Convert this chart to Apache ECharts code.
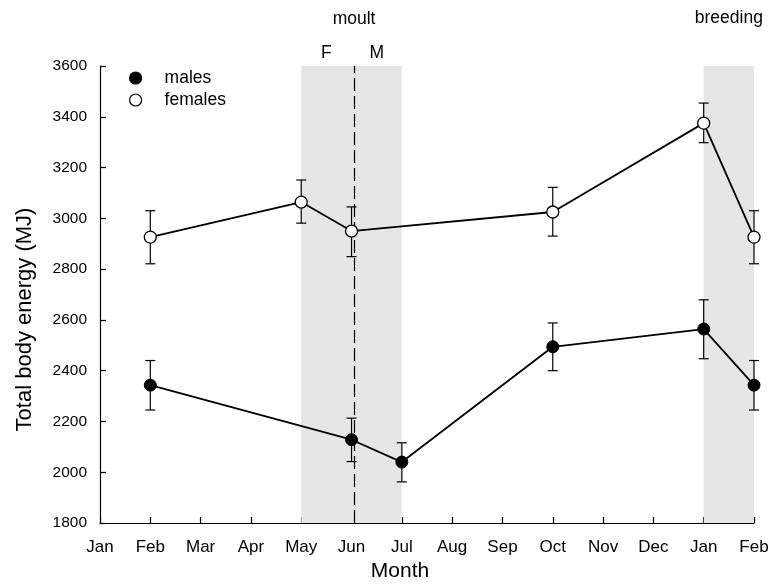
<!DOCTYPE html>
<html>
<head>
<meta charset="utf-8">
<script src="https://cdn.jsdelivr.net/npm/echarts@6/dist/echarts.min.js"></script>
<style>
  html, body { margin: 0; padding: 0; background: #fff; }
  #chart { width: 770px; height: 585px; }
</style>
</head>
<body>
<div id="chart"></div>
<script>
// tick labels: 14 months, Jan to the following Feb
const monthLabels = ['Jan', 'Feb', 'Mar', 'Apr', 'May', 'Jun', 'Jul', 'Aug', 'Sep', 'Oct', 'Nov', 'Dec', 'Jan', 'Feb'];

// males: month index, mean, error bar ends
const malesX = [1, 5, 6, 9, 12, 13];
const malesY = [2343, 2128, 2040, 2494, 2564, 2343];
const malesLow = [2245, 2042, 1962, 2400, 2447, 2245];
const malesHigh = [2440, 2213, 2116, 2588, 2679, 2440];

// females
const femalesX = [1, 4, 5, 9, 12, 13];
const femalesY = [2926, 3064, 2950, 3025, 3375, 2926];
const femalesLow = [2821, 2981, 2849, 2930, 3298, 2821];
const femalesHigh = [3030, 3151, 3045, 3122, 3454, 3030];

// shaded periods (month index)
const moultPeriod = [4, 6];
const breedingPeriod = [12, 13];
const moultSplit = 5.05;

const font = '"Liberation Sans", Arial, sans-serif';

function pairs(xs, ys) {
    return xs.map((x, i) => [x, ys[i]]);
}

/**
 * error bars: vertical line + caps
 */
function errorSeries(xs, lows, highs) {
    return {
        type: 'custom',
        silent: true,
        z: 3,
        data: xs.map((x, i) => [x, lows[i], highs[i]]),
        renderItem: function(params, api) {
            const lo = api.coord([api.value(0), api.value(1)]);
            const hi = api.coord([api.value(0), api.value(2)]);
            const w = 5;
            const style = { stroke: '#000', lineWidth: 1.2 };
            return {
                type: 'group',
                children: [
                    { type: 'line', shape: { x1: lo[0], y1: lo[1], x2: hi[0], y2: hi[1] }, style },
                    { type: 'line', shape: { x1: lo[0] - w, y1: lo[1], x2: lo[0] + w, y2: lo[1] }, style },
                    { type: 'line', shape: { x1: hi[0] - w, y1: hi[1], x2: hi[0] + w, y2: hi[1] }, style }
                ]
            };
        }
    };
}

const chart = echarts.init(document.getElementById('chart'));

chart.setOption({
    animation: false,
    grid: { left: 100, right: 16, top: 66, bottom: 62, outerBoundsMode: 'none' },
    xAxis: {
        type: 'value',
        min: 0,
        max: 13,
        interval: 1,
        name: 'Month',
        nameLocation: 'middle',
        nameGap: 38,
        nameTextStyle: { fontFamily: font, fontSize: 21, color: '#000', padding: [0, 54, 0, 0] },
        axisLine: { lineStyle: { color: '#000', width: 1.2 } },
        axisTick: { inside: true, length: 6, lineStyle: { color: '#000', width: 1.2 } },
        axisLabel: {
            fontFamily: font, fontSize: 17, color: '#000', margin: 16,
            formatter: v => monthLabels[v] || ''
        },
        splitLine: { show: false }
    },
    yAxis: {
        type: 'value',
        min: 1800,
        max: 3600,
        interval: 200,
        name: 'Total body energy (MJ)',
        nameLocation: 'middle',
        nameGap: 64,
        nameTextStyle: { fontFamily: font, fontSize: 22, color: '#000', padding: [0, 50, 0, 0] },
        axisLine: { show: true, lineStyle: { color: '#000', width: 1.2 } },
        axisTick: { show: true, inside: true, length: 6, lineStyle: { color: '#000', width: 1.2 } },
        axisLabel: { fontFamily: font, fontSize: 15.5, color: '#000', margin: 13, formatter: v => String(v) },
        splitLine: { show: false }
    },
    legend: {
        orient: 'vertical',
        left: 129,
        top: 69,
        padding: 0,
        itemWidth: 12,
        itemHeight: 12,
        itemGap: 4,
        textStyle: { fontFamily: font, fontSize: 17.5, color: '#000', padding: [0, 0, 0, 18] },
        data: [
            { name: 'males', icon: 'circle', itemStyle: { color: '#000', borderColor: '#000', borderWidth: 1.2 } },
            { name: 'females', icon: 'circle', itemStyle: { color: '#fff', borderColor: '#000', borderWidth: 1.2 } }
        ]
    },
    series: [
        {
            type: 'line',
            name: 'bg',
            data: [],
            silent: true,
            z: 1,
            markArea: {
                silent: true,
                itemStyle: { color: '#e6e6e6' },
                data: [
                    [{ xAxis: moultPeriod[0], yAxis: 1800 }, { xAxis: moultPeriod[1], yAxis: 3600 }],
                    [{ xAxis: breedingPeriod[0], yAxis: 1800 }, { xAxis: breedingPeriod[1], yAxis: 3600 }]
                ]
            },
            markLine: {
                silent: true,
                symbol: 'none',
                label: { show: false },
                lineStyle: { color: '#000', type: [13, 5], width: 1.2 },
                data: [[{ xAxis: moultSplit, yAxis: 1800 }, { xAxis: moultSplit, yAxis: 3600 }]]
            }
        },
        errorSeries(malesX, malesLow, malesHigh),
        errorSeries(femalesX, femalesLow, femalesHigh),
        {
            type: 'line',
            name: 'males',
            z: 5,
            data: pairs(malesX, malesY),
            symbol: 'circle',
            symbolSize: 12,
            lineStyle: { color: '#000', width: 1.8 },
            itemStyle: { color: '#000', borderColor: '#000', borderWidth: 1 }
        },
        {
            type: 'line',
            name: 'females',
            z: 5,
            data: pairs(femalesX, femalesY),
            symbol: 'circle',
            symbolSize: 12,
            lineStyle: { color: '#000', width: 1.8 },
            itemStyle: { color: '#fff', borderColor: '#000', borderWidth: 1.3 }
        }
    ]
});

// period labels above the plot, placed from the axis scale
const labelStyle = { font: '17.5px ' + font, fill: '#000', align: 'center', verticalAlign: 'middle' };
const px = v => chart.convertToPixel({ xAxisIndex: 0 }, v);
chart.setOption({
    graphic: [
        { type: 'text', x: px(moultSplit), y: 19, style: Object.assign({ text: 'moult' }, labelStyle) },
        { type: 'text', x: px((breedingPeriod[0] + breedingPeriod[1]) / 2), y: 18, style: Object.assign({ text: 'breeding' }, labelStyle) },
        { type: 'text', x: px(4.5), y: 53, style: Object.assign({ text: 'F' }, labelStyle) },
        { type: 'text', x: px(5.5), y: 53, style: Object.assign({ text: 'M' }, labelStyle) }
    ]
});
</script>
</body>
</html>
